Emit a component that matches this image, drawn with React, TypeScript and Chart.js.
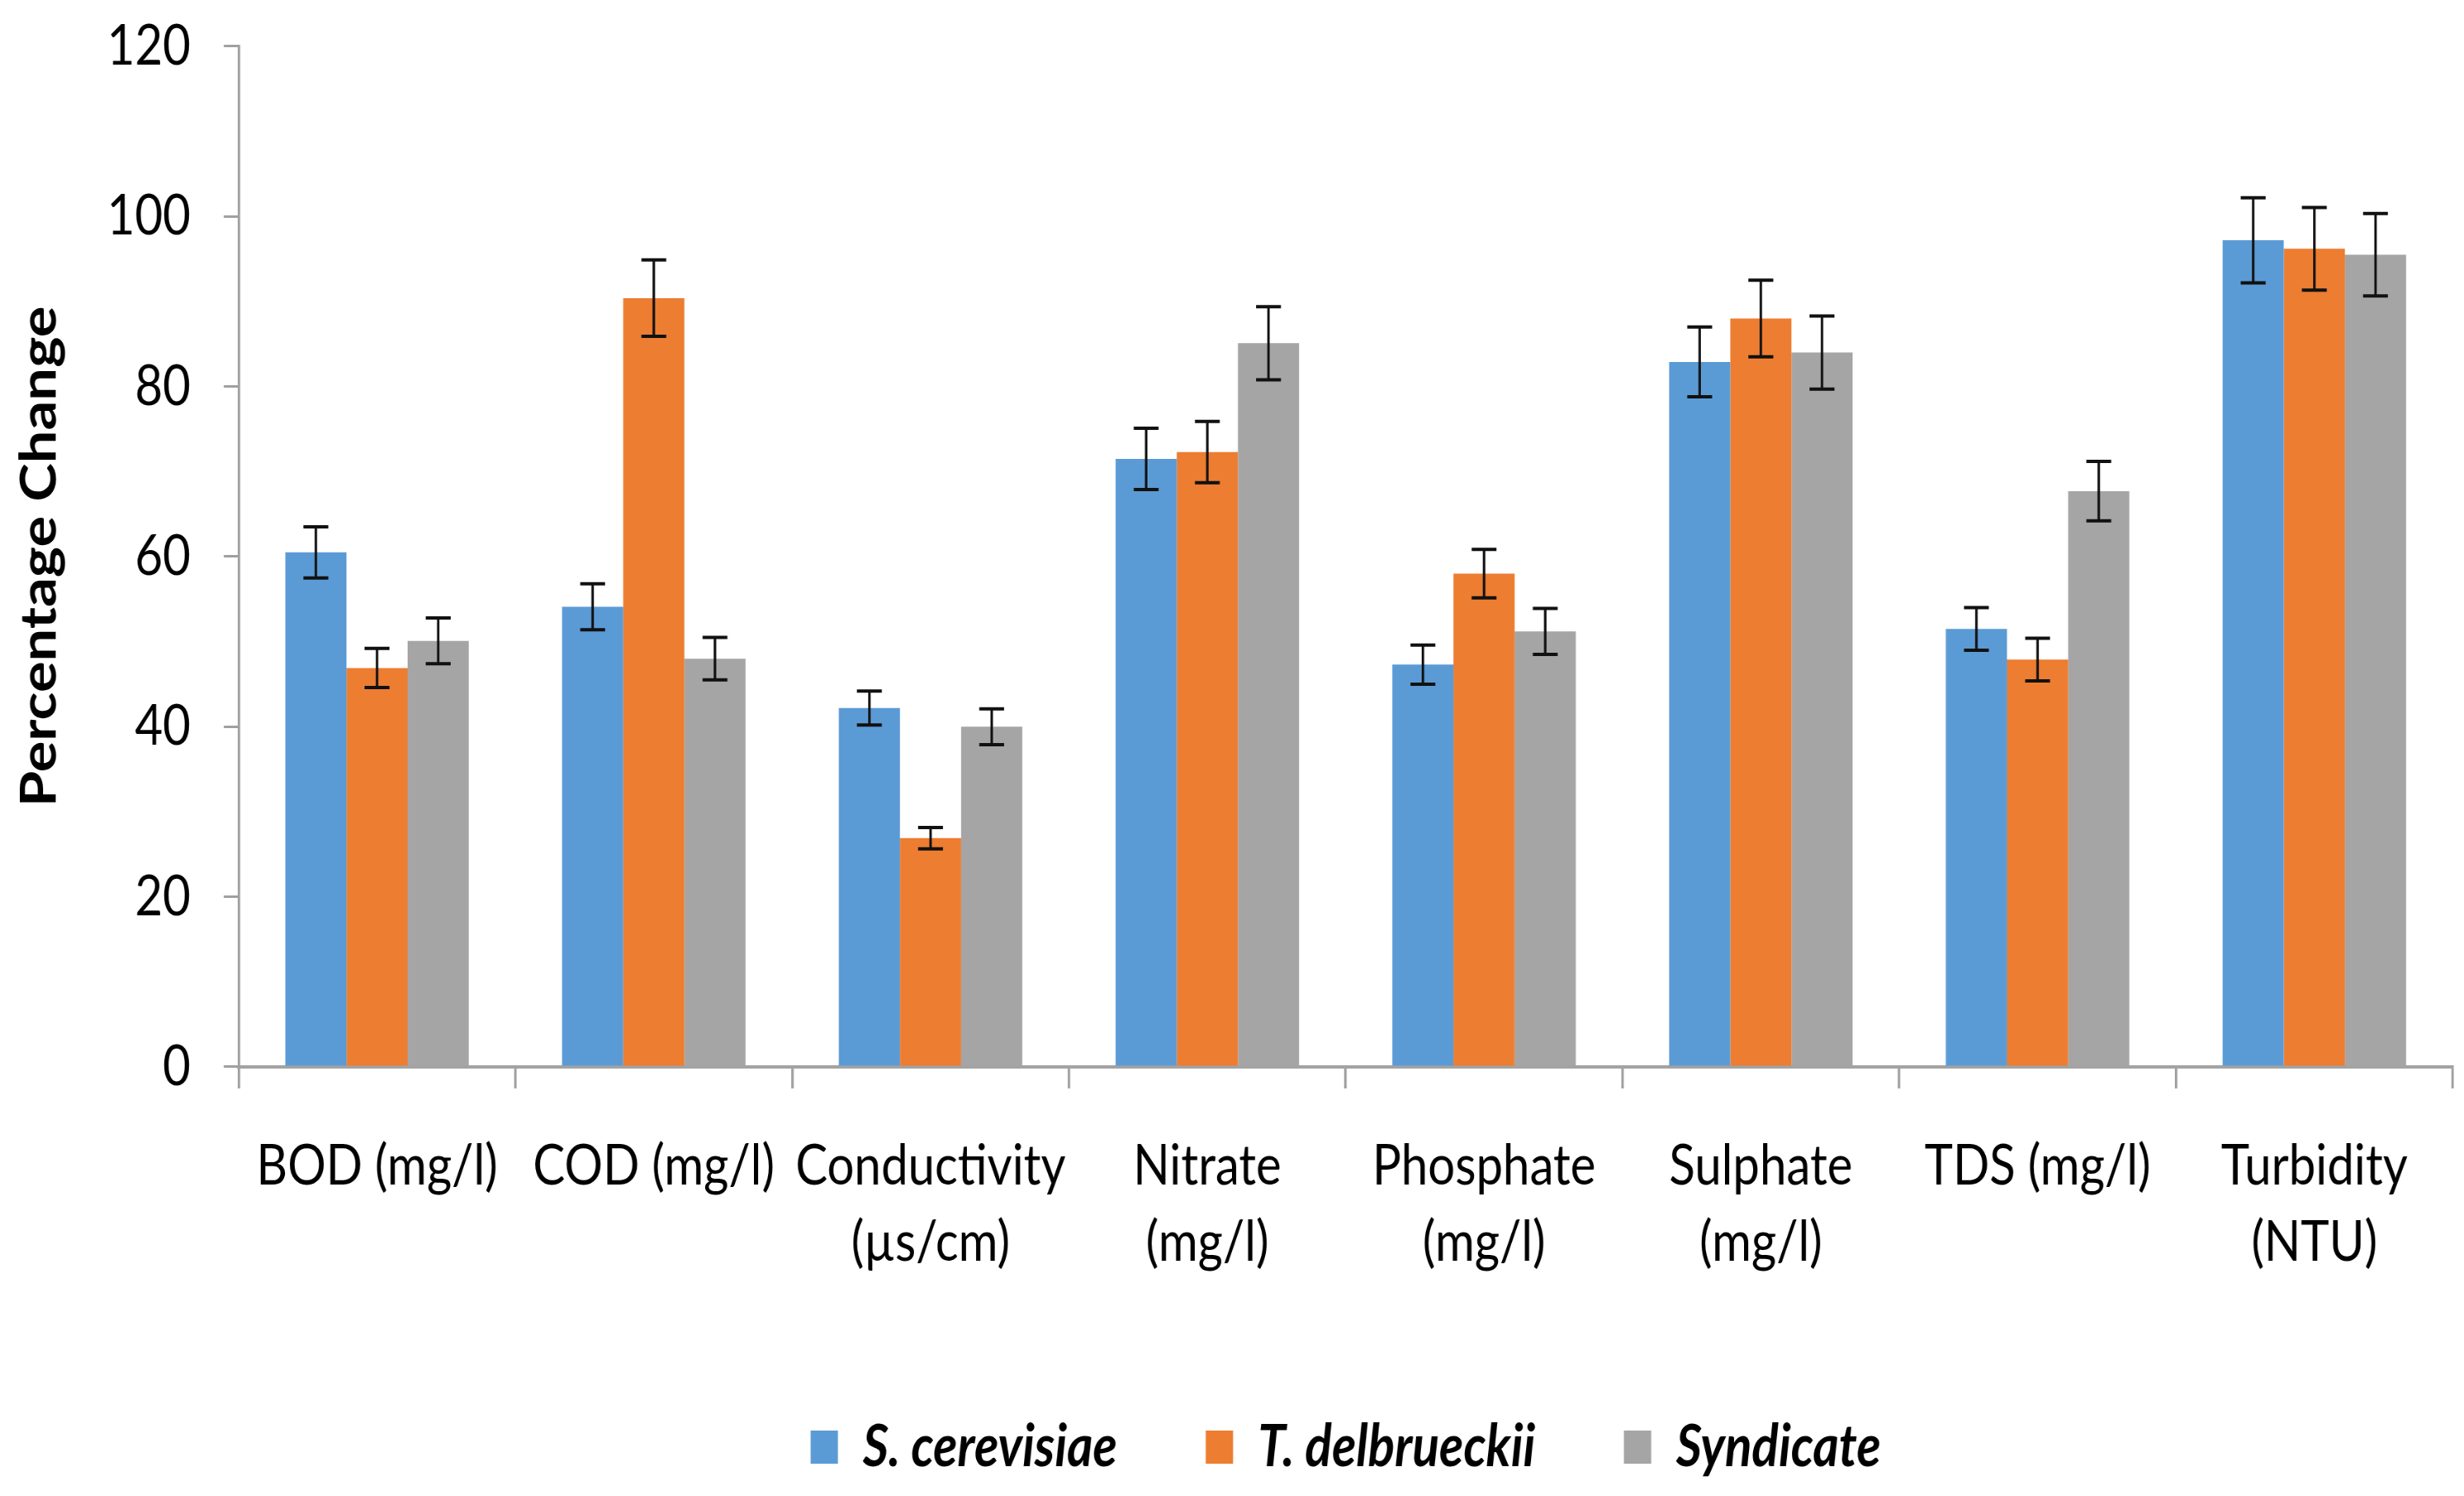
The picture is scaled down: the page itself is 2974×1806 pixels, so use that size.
import React, { useEffect, useRef } from "react";
import { Chart, registerables } from "chart.js";

Chart.register(...registerables);

const categories: (string | string[])[] = [
  "BOD (mg/l)",
  "COD (mg/l)",
  ["Conductivity", "(µs/cm)"],
  ["Nitrate", "(mg/l)"],
  ["Phosphate", "(mg/l)"],
  ["Sulphate", "(mg/l)"],
  "TDS (mg/l)",
  ["Turbidity", "(NTU)"],
];

const seriesNames = ["S. cerevisiae", "T. delbrueckii", "Syndicate"];

const cerevisiae = [60.5, 54.1, 42.2, 71.5, 47.3, 82.9, 51.5, 97.2];
const delbrueckii = [46.9, 90.4, 26.9, 72.3, 58.0, 88.0, 47.9, 96.2];
const syndicate = [50.1, 48.0, 40.0, 85.1, 51.2, 84.0, 67.7, 95.5];

const cerevisiaeErr = [3.0, 2.7, 2.0, 3.6, 2.3, 4.1, 2.5, 5.0];
const delbrueckiiErr = [2.3, 4.5, 1.25, 3.6, 2.85, 4.5, 2.5, 4.85];
const syndicateErr = [2.7, 2.5, 2.1, 4.3, 2.7, 4.3, 3.5, 4.85];

const yTicks = { min: 0, max: 120, step: 20 };

const colors = ["#5B9BD5", "#ED7D31", "#A5A5A5"];

// The picture is a vertically stretched office chart: draw at a reduced
// logical height and stretch the canvas vertically by STRETCH.
const W = 2974;
const H = 1806;
const STRETCH = 1.175;
const HL = H / STRETCH;

const FONT = "Lato, 'Open Sans', 'Liberation Sans', sans-serif";
const TICK_SIZE = 58;
const LEGEND_SIZE = 60;
const LEGEND_PAD = 107;
const PLOT_TOP = 56 / STRETCH;
const PLOT_BOTTOM = 1288 / STRETCH;
const LEGEND_CENTER = 1747 / STRETCH;
const LEGEND_PAD_BOTTOM = HL - LEGEND_SIZE / 2 - 10 - LEGEND_CENTER;
const LEGEND_TOP = HL - LEGEND_PAD_BOTTOM - (LEGEND_SIZE + LEGEND_PAD + 10);
const X_TICK_LEN = 26 / STRETCH;
const X_LINE_H = 92 / STRETCH;
const X_LABEL_CENTER = 1408 / STRETCH;

const errorBarPlugin = {
  id: "errorBars",
  afterDatasetsDraw(chart: any) {
    const ctx = chart.ctx;
    const yScale = chart.scales.y;
    const errs = [cerevisiaeErr, delbrueckiiErr, syndicateErr];
    ctx.save();
    ctx.strokeStyle = "#111111";
    chart.data.datasets.forEach((ds: any, di: number) => {
      const meta = chart.getDatasetMeta(di);
      if (meta.hidden) return;
      meta.data.forEach((bar: any, i: number) => {
        const v = ds.data[i];
        const e = errs[di][i];
        const x = bar.x;
        const yTop = yScale.getPixelForValue(v + e);
        const yBot = yScale.getPixelForValue(v - e);
        const cap = 15;
        ctx.lineWidth = 3;
        ctx.beginPath();
        ctx.moveTo(x, yTop);
        ctx.lineTo(x, yBot);
        ctx.stroke();
        ctx.lineWidth = 4 / STRETCH;
        ctx.beginPath();
        ctx.moveTo(x - cap, yTop);
        ctx.lineTo(x + cap, yTop);
        ctx.moveTo(x - cap, yBot);
        ctx.lineTo(x + cap, yBot);
        ctx.stroke();
      });
    });
    ctx.restore();
  },
};

export default function App() {
  const canvasRef = useRef<HTMLCanvasElement | null>(null);

  useEffect(() => {
    if (!canvasRef.current) return;
    const dataArrays = [cerevisiae, delbrueckii, syndicate];
    const dpr = (window.devicePixelRatio || 1) * STRETCH;
    const chart = new Chart(canvasRef.current, {
      type: "bar",
      data: {
        labels: categories,
        datasets: seriesNames.map((name, i) => ({
          label: name,
          data: dataArrays[i],
          backgroundColor: colors[i],
          borderWidth: 0,
          categoryPercentage: 0.663,
          barPercentage: 1.0,
        })),
      },
      options: {
        animation: false,
        responsive: true,
        maintainAspectRatio: false,
        devicePixelRatio: dpr,
        layout: { padding: { top: PLOT_TOP, left: 0, right: 14, bottom: LEGEND_PAD_BOTTOM } },
        plugins: {
          tooltip: { enabled: false },
          legend: {
            position: "bottom",
            fullSize: false,
            labels: {
              boxWidth: 33,
              boxHeight: 40 / STRETCH,
              padding: LEGEND_PAD,
              color: "#000000",
              font: { family: FONT, size: LEGEND_SIZE, weight: "bold", style: "italic" },
            },
          },
        },
        scales: {
          x: {
            afterFit: (scale: any) => {
              scale.height = LEGEND_TOP - PLOT_BOTTOM;
            },
            grid: {
              display: true,
              drawOnChartArea: false,
              drawTicks: true,
              tickLength: X_TICK_LEN,
              color: "#a0a0a0",
              lineWidth: 3,
              offset: true,
            },
            border: { display: true, color: "#a3a3a3", width: 4 / STRETCH },
            ticks: {
              color: "#000000",
              padding: X_LABEL_CENTER - PLOT_BOTTOM - X_TICK_LEN - X_LINE_H / 2,
              maxRotation: 0,
              autoSkip: false,
              font: { family: FONT, size: TICK_SIZE, lineHeight: X_LINE_H / TICK_SIZE },
            },
          },
          y: {
            min: yTicks.min,
            max: yTicks.max,
            afterFit: (scale: any) => {
              scale.width = 288;
              scale.paddingTop = 0;
              scale.paddingBottom = 0;
            },
            grid: {
              display: true,
              drawOnChartArea: false,
              drawTicks: true,
              tickLength: 18,
              color: "#a0a0a0",
              lineWidth: 3 / STRETCH,
            },
            border: { display: true, color: "#a0a0a0", width: 3 },
            ticks: {
              stepSize: yTicks.step,
              color: "#000000",
              padding: 40,
              font: { family: FONT, size: TICK_SIZE, lineHeight: 1.2 },
            },
            title: {
              display: true,
              text: "Percentage Change",
              color: "#000000",
              padding: { top: 12, bottom: 0 },
              font: { family: FONT, size: 60, weight: "bold", lineHeight: 1.2 },
            },
          },
        },
      },
      plugins: [errorBarPlugin],
    });
    return () => chart.destroy();
  }, []);

  return (
    <div
      style={{
        position: "fixed",
        left: 0,
        top: 0,
        width: `${W}px`,
        height: `${H}px`,
        background: "#ffffff",
        overflow: "hidden",
      }}
    >
      <div
        style={{
          width: `${W}px`,
          height: `${HL}px`,
          transform: `scaleY(${STRETCH})`,
          transformOrigin: "0 0",
        }}
      >
        <canvas ref={canvasRef} />
      </div>
    </div>
  );
}
